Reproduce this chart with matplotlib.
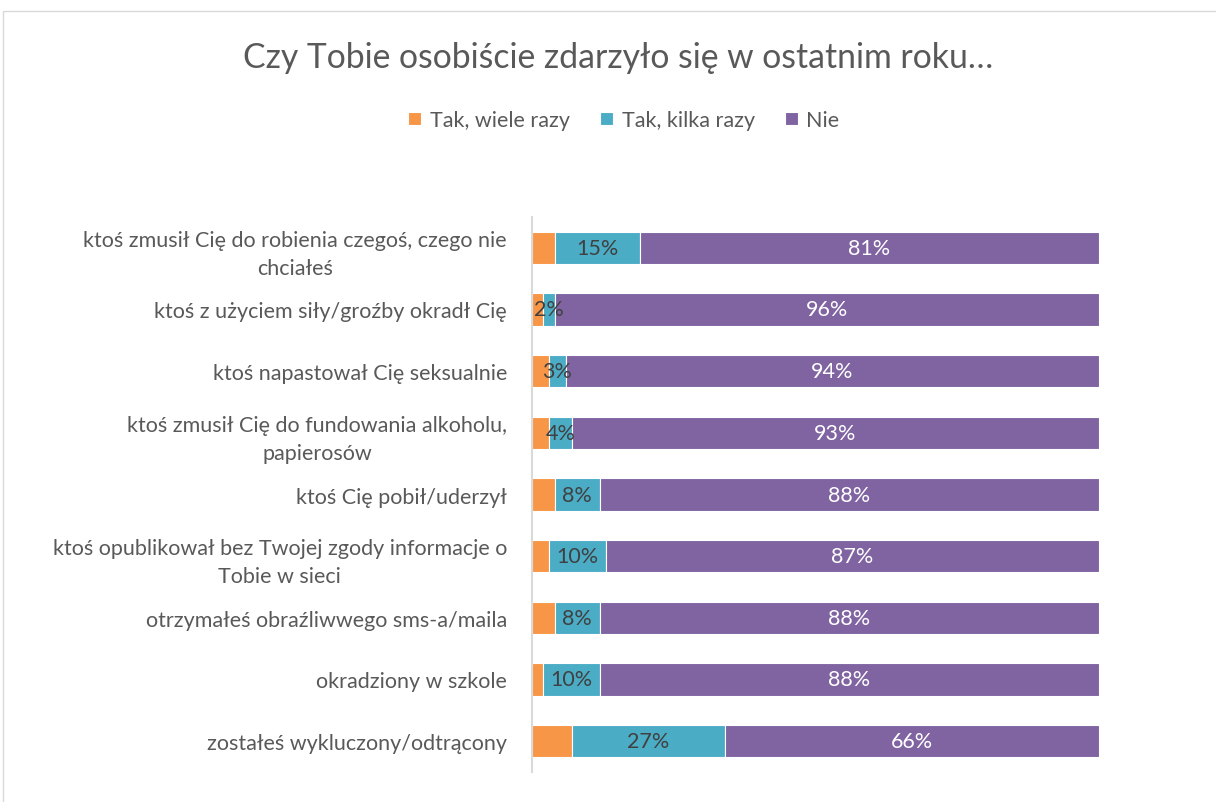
import matplotlib
matplotlib.use("Agg")
import matplotlib.pyplot as plt
from matplotlib.patches import Rectangle

categories = [
    "ktoś zmusił Cię do robienia czegoś, czego nie\nchciałeś",
    "ktoś z użyciem siły/groźby okradł Cię",
    "ktoś napastował Cię seksualnie",
    "ktoś zmusił Cię do fundowania alkoholu,\npapierosów",
    "ktoś Cię pobił/uderzył",
    "ktoś opublikował bez Twojej zgody informacje o\nTobie w sieci",
    "otrzymałeś obraźliwwego sms-a/maila",
    "okradziony w szkole",
    "zostałeś wykluczony/odtrącony",
]
series_names = ["Tak, wiele razy", "Tak, kilka razy", "Nie"]
wiele = [4, 2, 3, 3, 4, 3, 4, 2, 7]
kilka = [15, 2, 3, 4, 8, 10, 8, 10, 27]
nie = [81, 96, 94, 93, 88, 87, 88, 88, 66]
colors = ["#F79646", "#4BACC6", "#8064A2"]

plt.rcParams['font.family'] = ['Lato', 'DejaVu Sans']

fig = plt.figure(figsize=(12.16, 8.03), dpi=100)
fig.patches.append(Rectangle((3/1216, -0.1), 1.2, (803-12)/803 + 0.1, transform=fig.transFigure,
                             fill=False, edgecolor="#D9D9D9", linewidth=1.0))
ax = fig.add_axes([532/1216, 1-773/803, 567/1216, (773-218)/803])

y = list(range(len(categories)))
h = 0.52
left = [0]*len(categories)
for vals, name, col in zip([wiele, kilka, nie], series_names, colors):
    bars = ax.barh(y, vals, left=left, height=h, color=col, edgecolor="white", linewidth=0.8, label=name)
    if name != series_names[0]:
        tc = "white" if name == "Nie" else "#404040"
        for yi, l, v in zip(y, left, vals):
            ax.text(l + v/2, yi, f"{v}%", ha="center", va="center", fontsize=15.5, color=tc)
    left = [a + b for a, b in zip(left, vals)]

ax.set_xlim(0, 100)
ax.set_ylim(len(categories)-0.5, -0.5)
ax.set_yticks(y)
ax.set_yticklabels(categories, fontsize=15.5, color="#595959", multialignment="center", linespacing=1.5)
ax.tick_params(axis="y", length=0, pad=18)
ax.set_xticks([])
for s in ["top", "right", "bottom"]:
    ax.spines[s].set_visible(False)
ax.spines["left"].set_color("#D9D9D9")
ax.spines["left"].set_linewidth(1.5)

fig.text(618/1216, 1-58/803, "Czy Tobie osobiście zdarzyło się w ostatnim roku…", ha="center", va="center",
         fontsize=24.3, color="#595959")
handles, labels = ax.get_legend_handles_labels()
fig.legend(handles, labels, loc="center", bbox_to_anchor=(624/1216, 1-121/803), ncol=3, frameon=False,
           fontsize=15.5, labelcolor="#595959", handlelength=0.6, handleheight=0.6,
           handletextpad=0.4, columnspacing=1.4)

fig.savefig("out.png", dpi=100)
